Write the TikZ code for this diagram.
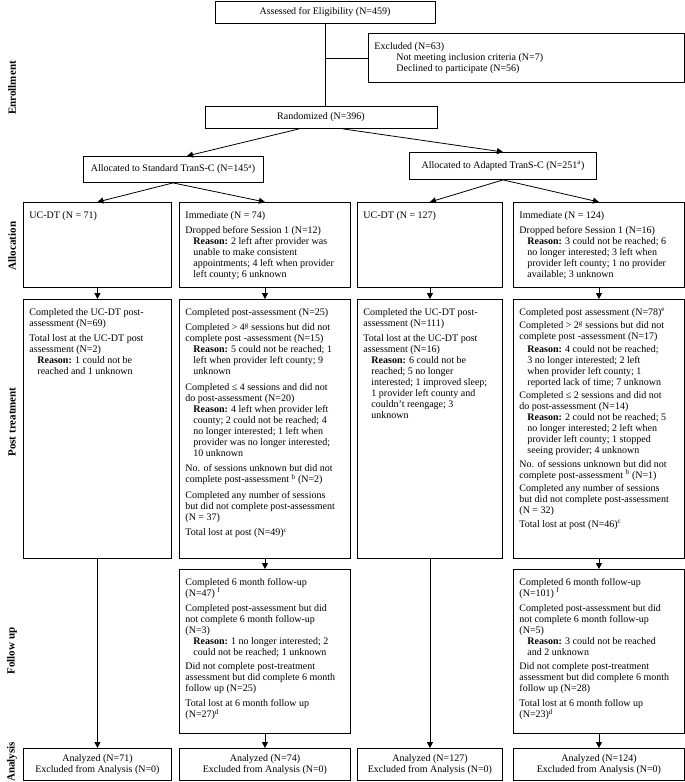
\documentclass[tikz,border=0pt]{standalone}
\usepackage{fontspec}
\setmainfont{Liberation Serif}
\usetikzlibrary{arrows.meta}

\newcommand{\ind}{\hspace*{8pt}}
\newcommand{\rsn}{\ind\textbf{Reason:}}
\newcommand{\boxtxt}[3]{\parbox[t][#2pt][t]{#1pt}{\raggedright #3}}

\tikzset{
  stage/.style={draw, line width=0.9pt, inner xsep=6pt, inner ysep=9pt, anchor=north west, font=\fontsize{10}{11}\selectfont},
  headbox/.style={draw, line width=0.9pt, inner sep=0pt, anchor=north, font=\fontsize{10}{11}\selectfont},
  endbox/.style={draw, line width=0.9pt, inner sep=0pt, anchor=north west, align=center, minimum height=32pt, font=\fontsize{10}{11}\selectfont},
  rowlabel/.style={rotate=90, font=\fontsize{11}{12}\selectfont\bfseries},
  link/.style={line width=0.8pt},
  flow/.style={line width=0.8pt, -{Triangle[length=6pt,width=6pt]}},
}

\begin{document}
\begin{tikzpicture}[x=1pt, y=-1pt]
\useasboundingbox (0,0) rectangle (685,782);

% Etapes
\node[rowlabel] (lenr) at (12,88) {Enrollment};
\node[rowlabel] (lall) at (12,246) {Allocation};
\node[rowlabel] (lpost) at (12,422) {Post treatment};
\node[rowlabel] (lfol) at (12,651) {Follow up};
\node[rowlabel] (lana) at (12,762) {Analysis};

% Enrollment
\node[headbox, minimum width=220pt, minimum height=22pt] (assess) at (325,0.5) {Assessed for Eligibility (N=459)};
\node[stage] (excl) at (368,33) {\boxtxt{304}{31}{Excluded (N=63)\\
  \hspace*{22pt}Not meeting inclusion criteria (N=7)\\
  \hspace*{22pt}Declined to participate (N=56)}};
\node[headbox, minimum width=232pt, minimum height=22pt] (rand) at (321,106) {Randomized (N=396)};
\node[headbox, minimum width=180pt, minimum height=26pt] (std) at (173,156) {Allocated to Standard TranS-C (N=145\textsuperscript{a})};
\node[headbox, minimum width=187pt, minimum height=27pt] (adp) at (503,152) {Allocated to Adapted TranS-C (N=251\textsuperscript{a})};

% Allocation
\node[stage] (sucd) at (23,202) {\boxtxt{136}{67}{UC-DT (N = 71)}};
\node[stage] (simm) at (179,202) {\boxtxt{159}{67}{Immediate (N = 74)\\[4pt]
  Dropped before Session 1 (N=12)\\
  \rsn{} 2 left after provider was\\
  \ind unable to make consistent\\
  \ind appointments; 4 left when provider\\
  \ind left county; 6 unknown}};
\node[stage] (aucd) at (357,202) {\boxtxt{133}{67}{UC-DT (N = 127)}};
\node[stage] (aimm) at (513,202) {\boxtxt{159}{67}{Immediate (N = 124)\\[4pt]
  Dropped before Session 1 (N=16)\\
  \rsn{} 3 could not be reached; 6\\
  \ind no longer interested; 3 left when\\
  \ind provider left county; 1 no provider\\
  \ind available; 3 unknown}};

% Post treatment
\node[stage] (sucdp) at (23,299) {\boxtxt{136}{241}{Completed the UC-DT post-\\
  assessment (N=69)\\[4.5pt]
  Total lost at the UC-DT post\\
  assessment (N=2)\\
  \rsn{} 1 could not be\\
  \ind reached and 1 unknown}};
\node[stage] (simmp) at (179,299) {\boxtxt{159}{241}{Completed post-assessment (N=25)\\[4.5pt]
  Completed > 4\textsuperscript{g} sessions but did not\\
  complete post -assessment (N=15)\\
  \rsn{} 5 could not be reached; 1\\
  \ind left when provider left county; 9\\
  \ind unknown\\[4.5pt]
  Completed ≤ 4 sessions and did not\\
  do post-assessment (N=20)\\
  \rsn{} 4 left when provider left\\
  \ind county; 2 could not be reached; 4\\
  \ind no longer interested; 1 left when\\
  \ind provider was no longer interested;\\
  \ind 10 unknown\\[4.5pt]
  No. of sessions unknown but did not\\
  complete post-assessment \textsuperscript{b} (N=2)\\[4.5pt]
  Completed any number of sessions\\
  but did not complete post-assessment\\
  (N = 37)\\[4.5pt]
  Total lost at post (N=49)\textsuperscript{c}}};
\node[stage] (aucdp) at (357,299) {\boxtxt{133}{241}{Completed the UC-DT post-\\
  assessment (N=111)\\[4.5pt]
  Total lost at the UC-DT post\\
  assessment (N=16)\\
  \rsn{} 6 could not be\\
  \ind reached; 5 no longer\\
  \ind interested; 1 improved sleep;\\
  \ind 1 provider left county and\\
  \ind couldn’t reengage; 3\\
  \ind unknown}};
\node[stage] (aimmp) at (513,299) {\boxtxt{159}{241}{Completed post assessment (N=78)\textsuperscript{e}\\[2.5pt]
  Completed > 2\textsuperscript{g} sessions but did not\\
  complete post -assessment (N=17)\\[1.5pt]
  \rsn{} 4 could not be reached;\\
  \ind 3 no longer interested; 2 left\\
  \ind when provider left county; 1\\
  \ind reported lack of time; 7 unknown\\[2.5pt]
  Completed ≤ 2 sessions and did not\\
  do post-assessment (N=14)\\
  \rsn{} 2 could not be reached; 5\\
  \ind no longer interested; 2 left when\\
  \ind provider left county; 1 stopped\\
  \ind seeing provider; 4 unknown\\[2.5pt]
  No. of sessions unknown but did not\\
  complete post-assessment \textsuperscript{b} (N=1)\\[2.5pt]
  Completed any number of sessions\\
  but did not complete post-assessment\\
  (N = 32)\\[2.5pt]
  Total lost at post (N=46)\textsuperscript{c}}};

% Follow up
\node[stage] (simmf) at (179,569) {\boxtxt{159}{146}{Completed 6 month follow-up\\
  (N=47) \textsuperscript{f}\\[3.75pt]
  Completed post-assessment but did\\
  not complete 6 month follow-up\\
  (N=3)\\
  \rsn{} 1 no longer interested; 2\\
  \ind could not be reached; 1 unknown\\[3.75pt]
  Did not complete post-treatment\\
  assessment but did complete 6 month\\
  follow up (N=25)\\[3.75pt]
  Total lost at 6 month follow up\\
  (N=27)\textsuperscript{d}}};
\node[stage] (aimmf) at (513,569) {\boxtxt{159}{146}{Completed 6 month follow-up\\
  (N=101) \textsuperscript{f}\\[3.75pt]
  Completed post-assessment but did\\
  not complete 6 month follow-up\\
  (N=5)\\
  \rsn{} 3 could not be reached\\
  \ind and 2 unknown\\[3.75pt]
  Did not complete post-treatment\\
  assessment but did complete 6 month\\
  follow up (N=28)\\[3.75pt]
  Total lost at 6 month follow up\\
  (N=23)\textsuperscript{d}}};

% Analysis
\node[endbox, minimum width=148pt] (sucdn) at (23,748) {Analyzed (N=71)\\Excluded from Analysis (N=0)};
\node[endbox, minimum width=171pt] (simmn) at (179,748) {Analyzed (N=74)\\Excluded from Analysis (N=0)};
\node[endbox, minimum width=145pt] (aucdn) at (357,748) {Analyzed (N=127)\\Excluded from Analysis (N=0)};
\node[endbox, minimum width=171pt] (aimmn) at (513,748) {Analyzed (N=124)\\Excluded from Analysis (N=0)};

% Flèches
\draw[link] (assess.south) -- (assess.south |- rand.north);
\draw[link] (assess.south |- excl.west) -- (excl.west);
\draw[flow] ([xshift=-22pt]rand.south) -- ([xshift=14pt]std.north);
\draw[flow] ([xshift=22pt]rand.south) -- (adp.north);
\draw[flow] (std.south) -- (sucd.north);
\draw[flow] (std.south) -- (simm.north);
\draw[flow] (adp.south) -- (aucd.north);
\draw[flow] (adp.south) -- (aimm.north);
\draw[flow] (sucd) -- (sucdp);
\draw[flow] (simm) -- (simmp);
\draw[flow] (aucd) -- (aucdp);
\draw[flow] (aimm) -- (aimmp);
\draw[flow] (sucdp) -- (sucdn);
\draw[flow] (simmp) -- (simmf);
\draw[flow] (simmf) -- (simmn);
\draw[flow] (aucdp) -- (aucdn);
\draw[flow] (aimmp) -- (aimmf);
\draw[flow] (aimmf) -- (aimmn);
\end{tikzpicture}
\end{document}
